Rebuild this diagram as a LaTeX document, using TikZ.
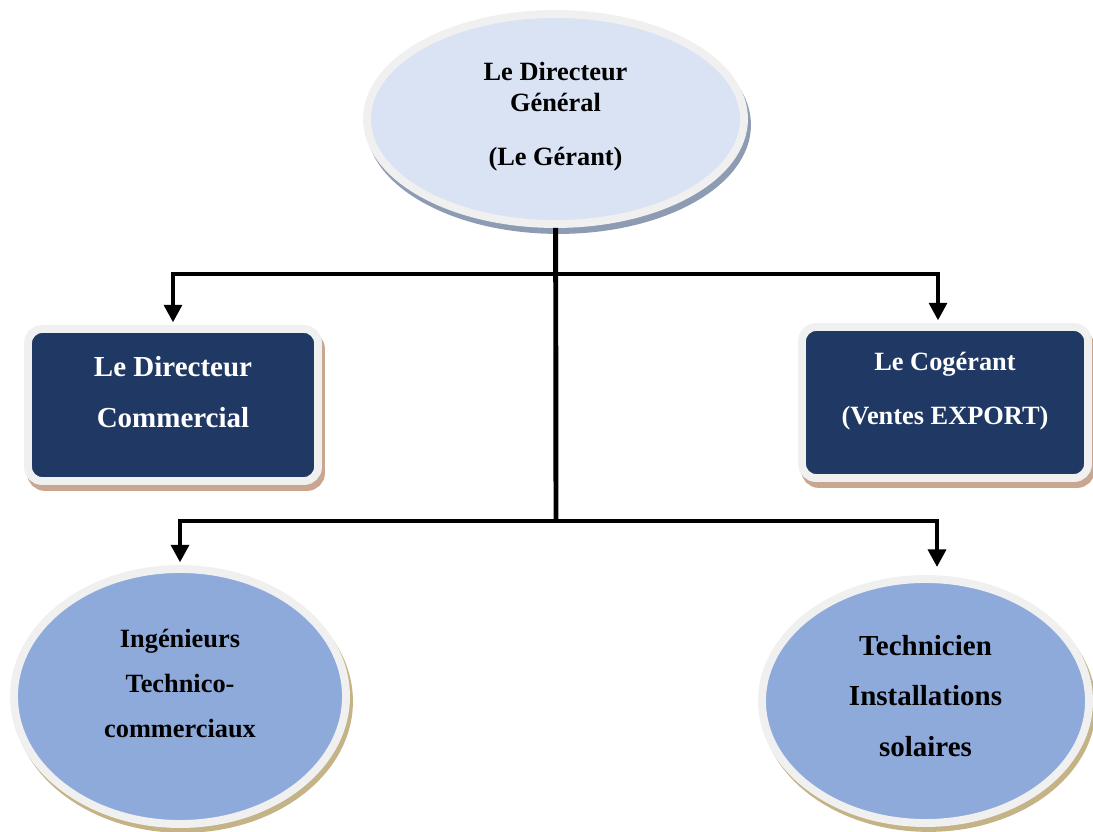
\documentclass[tikz,border=0pt]{standalone}
\usepackage{fontspec}
\setmainfont{Liberation Serif}
\usetikzlibrary{shapes.geometric,shadows,arrows.meta}

\definecolor{ringgrey}{HTML}{F0F0F0}
\definecolor{paleblue}{HTML}{DAE3F3}
\definecolor{midblue}{HTML}{8EAADB}
\definecolor{navy}{HTML}{203864}
\definecolor{greyshadow}{HTML}{8E9CB3}
\definecolor{tanshadow}{HTML}{C9A68F}
\definecolor{khakishadow}{HTML}{C3B386}

\tikzset{
  ring/.style={draw=ringgrey, line width=4.5pt, align=center, inner sep=0pt},
  boss/.style={ring, ellipse, fill=paleblue,
    drop shadow={shadow xshift=1.7pt, shadow yshift=-3.4pt, opacity=1,
      fill=greyshadow, draw=greyshadow, line width=4.5pt}},
  chief/.style={ring, rectangle, rounded corners=8pt, fill=navy, text=white,
    drop shadow={shadow xshift=1.7pt, shadow yshift=-3.4pt, opacity=1,
      fill=tanshadow, draw=tanshadow, line width=4.5pt}},
  staff/.style={ring, ellipse, fill=midblue,
    drop shadow={shadow xshift=1.7pt, shadow yshift=-2.8pt, opacity=1,
      fill=khakishadow, draw=khakishadow, line width=4.5pt}},
  link/.style={line width=2.8pt},
  drop/.style={link, -{Triangle[width=10pt,length=10pt]}, shorten >=1.5pt}
}

\begin{document}
\begin{tikzpicture}
  \useasboundingbox (0,0) rectangle (21.86,16.62);

  \node (DG) [boss, minimum width=7.54cm, minimum height=4.2cm, text depth=6pt,
    font={\fontsize{15}{17.6}\selectfont\bfseries}] at (11.11,14.24)
    {Le Directeur\\Général\\[13pt](Le Gérant)};

  \node (DC) [chief, minimum width=5.8cm, minimum height=3.04cm, text depth=15pt,
    font={\fontsize{16.5}{28.9}\selectfont\bfseries}] at (3.46,8.52)
    {Le Directeur\\Commercial};

  \node (CG) [chief, minimum width=5.72cm, minimum height=3.02cm, text depth=16pt,
    font={\fontsize{15}{30.6}\selectfont\bfseries}] at (18.9,8.57)
    {Le Cogérant\\(Ventes EXPORT)};

  \node (Ing) [staff, minimum width=6.64cm, minimum height=5.1cm, text depth=15pt,
    font={\fontsize{15}{25.8}\selectfont\bfseries}] at (3.6,2.69)
    {Ingénieurs\\Technico-\\commerciaux};

  \node (Tech) [staff, minimum width=6.54cm, minimum height=4.88cm, text depth=6pt,
    font={\fontsize{16.5}{28.6}\selectfont\bfseries}] at (18.51,2.6)
    {Technicien\\Installations\\solaires};

  \coordinate (Fork1) at (11.12,11.14);
  \coordinate (Fork2) at (11.12,6.2);

  \draw [link] (DG) -- (Fork2);
  \draw [drop] (Fork1) -| (DC.north);
  \draw [drop] (Fork1) -| ([xshift=-0.14cm]CG.north);
  \draw [drop] (Fork2) -| (Ing.north);
  \draw [drop, shorten >=0.16cm] (Fork2) -| ([xshift=0.23cm]Tech.north);
\end{tikzpicture}
\end{document}
